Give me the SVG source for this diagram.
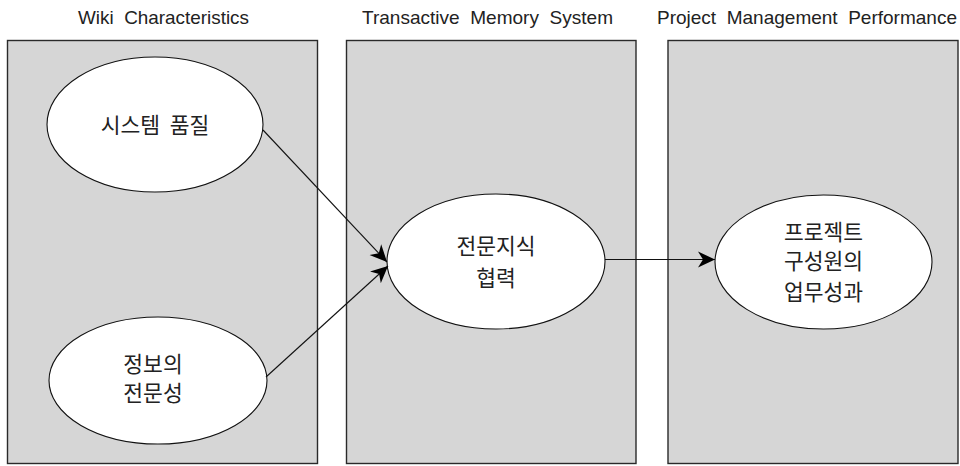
<svg xmlns="http://www.w3.org/2000/svg" width="960" height="466" viewBox="0 0 960 466">
  <style>
    .panel { fill: #d6d6d6; stroke: #2a2a2a; stroke-width: 1.4; }
    .title { font-family: "Liberation Sans", "Noto Sans", sans-serif; font-size: 18.5px; fill: #222; text-anchor: middle; white-space: pre; }
    .node ellipse { fill: #ffffff; stroke: #111; stroke-width: 1.1; }
    .label { font-family: "Noto Sans CJK KR", "Noto Sans", sans-serif; font-size: 21.5px; fill: #222; text-anchor: middle; white-space: pre; }
    .edge { stroke: #111; stroke-width: 1.1; fill: none; marker-end: url(#arrow); }
  </style>
  <defs>
    <marker id="arrow" markerUnits="userSpaceOnUse" viewBox="-17 -9 18 18" refX="0" refY="0" markerWidth="18" markerHeight="18" orient="auto">
      <path d="M0,0 L-17,-8 L-12,0 L-17,8 Z" fill="#000"/>
    </marker>
  </defs>
  <rect width="960" height="466" fill="#ffffff"/>

  <g id="panel-wiki">
    <rect class="panel" x="7.5" y="40.5" width="310" height="423"/>
    <text class="title" x="163.5" y="23.5" xml:space="preserve" textLength="171" lengthAdjust="spacingAndGlyphs">Wiki  Characteristics</text>
  </g>
  <g id="panel-tms">
    <rect class="panel" x="346.5" y="40.5" width="289.5" height="423"/>
    <text class="title" x="487.5" y="23.5" xml:space="preserve" textLength="251" lengthAdjust="spacingAndGlyphs">Transactive  Memory  System</text>
  </g>
  <g id="panel-pmp">
    <rect class="panel" x="668" y="40.5" width="290" height="423"/>
    <text class="title" x="807" y="23.5" xml:space="preserve" textLength="300" lengthAdjust="spacingAndGlyphs">Project  Management  Performance</text>
  </g>

  <g id="node-system-quality" class="node">
    <ellipse cx="155" cy="124.5" rx="108" ry="67.5"/>
    <text class="label" x="155" y="133" xml:space="preserve">시스템  품질</text>
  </g>
  <g id="node-info-expertise" class="node">
    <ellipse cx="158" cy="380.5" rx="109" ry="63.5"/>
    <text class="label" x="153" y="372">정보의</text>
    <text class="label" x="153" y="401">전문성</text>
  </g>
  <g id="node-expertise-collab" class="node">
    <ellipse cx="496" cy="261.5" rx="109" ry="67.5"/>
    <text class="label" x="496" y="254">전문지식</text>
    <text class="label" x="496" y="286">협력</text>
  </g>
  <g id="node-member-performance" class="node">
    <ellipse cx="823.5" cy="262" rx="108.5" ry="67"/>
    <text class="label" x="823.5" y="240">프로젝트</text>
    <text class="label" x="823.5" y="269">구성원의</text>
    <text class="label" x="823.5" y="300">업무성과</text>
  </g>

  <g id="connectors">
    <line class="edge" x1="263" y1="130" x2="387" y2="262"/>
    <line class="edge" x1="266" y1="377" x2="388" y2="266"/>
    <line class="edge" x1="605" y1="259.5" x2="715" y2="259.5"/>
  </g>
</svg>
